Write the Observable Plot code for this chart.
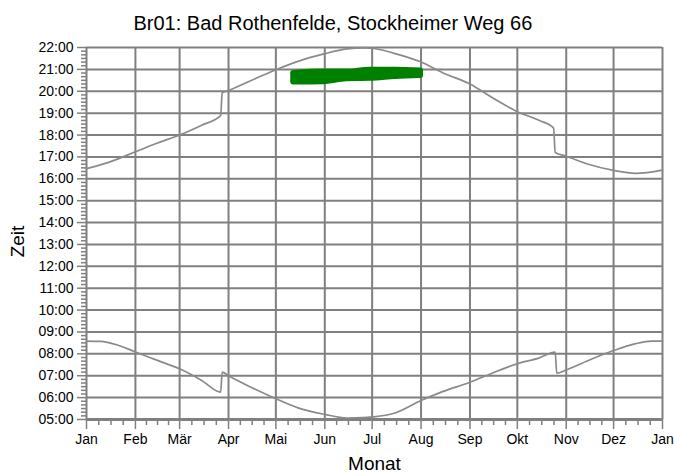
<!DOCTYPE html>
<html><head><meta charset="utf-8">
<script src="https://cdn.jsdelivr.net/npm/d3@7"></script>
<script src="https://cdn.jsdelivr.net/npm/@observablehq/plot@0.6"></script>
<style>body{margin:0;background:#fff} svg{display:block}</style>
</head><body><div id="chart"></div>
<script>
const title = "Br01: Bad Rothenfelde, Stockheimer Weg 66";
const xLabel = "Monat";
const yLabel = "Zeit";
const monthLabels = ["Jan","Feb","Mär","Apr","Mai","Jun","Jul","Aug","Sep","Okt","Nov","Dez","Jan"];
const hourTicks = [5,6,7,8,9,10,11,12,13,14,15,16,17,18,19,20,21,22];

const sunsetDays  = ["2023-01-01","2023-01-15","2023-02-01","2023-02-15","2023-03-01","2023-03-15","2023-03-27","2023-03-28","2023-04-01","2023-04-15","2023-05-01","2023-05-15","2023-06-01","2023-06-15","2023-06-25","2023-07-01","2023-07-15","2023-08-01","2023-08-15","2023-09-01","2023-09-15","2023-10-01","2023-10-15","2023-10-24","2023-10-25","2023-11-01","2023-11-15","2023-12-01","2023-12-15","2024-01-01"];
const sunsetTimes = ["16:28","16:45","17:14","17:38","18:00","18:27","18:53","19:56","20:02","20:29","20:59","21:22","21:43","21:56","21:59","21:58","21:44","21:20","20:50","20:20","19:43","19:04","18:40","18:19","17:12","17:02","16:40","16:23","16:15","16:24"];

const sunriseDays  = ["2023-01-01","2023-01-10","2023-01-20","2023-02-01","2023-02-15","2023-03-01","2023-03-15","2023-03-27","2023-03-28","2023-04-01","2023-04-15","2023-05-01","2023-05-15","2023-06-01","2023-06-15","2023-06-25","2023-07-01","2023-07-15","2023-08-01","2023-08-15","2023-09-01","2023-09-15","2023-10-01","2023-10-15","2023-10-25","2023-10-26","2023-11-01","2023-11-15","2023-12-01","2023-12-15","2023-12-25","2024-01-01"];
const sunriseTimes = ["08:35","08:34","08:25","08:05","07:42","07:19","06:47","06:15","07:10","07:00","06:29","05:57","05:32","05:14","05:04","05:05","05:07","05:17","05:52","06:17","06:42","07:07","07:33","07:49","08:05","07:07","07:16","07:42","08:09","08:28","08:35","08:35"];

const shadowDays  = ["2023-05-12","2023-05-31","2023-06-15","2023-06-30","2023-07-16","2023-08-01"];
const shadowStart = ["20:24","20:25","20:33","20:34","20:39","20:42"];
const shadowEnd   = ["20:50","20:54","20:54","20:59","20:59","20:57"];

const toDate = s => new Date(s + "T00:00:00Z");
const toHours = s => { const [h, m] = s.split(":").map(Number); return h + m / 60; };

const sunset = sunsetDays.map((d, i) => ({date: toDate(d), h: toHours(sunsetTimes[i])}));
const sunrise = sunriseDays.map((d, i) => ({date: toDate(d), h: toHours(sunriseTimes[i])}));
const shadow = shadowDays.map((d, i) => ({date: toDate(d), start: toHours(shadowStart[i]), end: toHours(shadowEnd[i])}));

const x0 = new Date(Date.UTC(2023, 0, 1)), x1 = new Date(Date.UTC(2024, 0, 1));
const monthTicks = d3.utcMonth.range(x0, new Date(Date.UTC(2024, 0, 2)));
const minorX = [];
for (let i = 0; i < monthTicks.length - 1; i++) {
  const a = +monthTicks[i], b = +monthTicks[i + 1];
  for (let k = 1; k < 4; k++) minorX.push(new Date(a + (b - a) * k / 4));
}
const minorY = [];
for (let i = 0; i <= 17 * 6; i++) if (i % 6) minorY.push(5 + i / 6);

const gray = "#808080";
const chart = Plot.plot({
  width: 674, height: 473,
  marginLeft: 86, marginRight: 12, marginTop: 47, marginBottom: 54,
  style: {fontFamily: "'Liberation Sans', Arial, sans-serif", fontSize: "14px", color: "black", background: "white"},
  x: {type: "utc", domain: [x0, x1], label: null},
  y: {domain: [5, 22], label: null},
  marks: [
    Plot.gridX(monthTicks, {stroke: gray, strokeOpacity: 1, strokeWidth: 2}),
    Plot.gridY(hourTicks, {stroke: gray, strokeOpacity: 1, strokeWidth: 2}),
    Plot.ruleY([5], {stroke: gray, strokeWidth: 3}),
    Plot.axisX(monthTicks, {tickSize: 10, tickPadding: 5, stroke: gray, strokeWidth: 1.5, tickFormat: d => monthLabels[d.getUTCMonth()], fontSize: 14, label: null}),
    Plot.axisX(minorX, {tickSize: 6, stroke: gray, strokeWidth: 1.5, tickFormat: () => "", label: null}),
    Plot.axisY(hourTicks, {tickSize: 9, tickPadding: 4, stroke: gray, strokeWidth: 1.5, tickFormat: h => String(h).padStart(2, "0") + ":00", fontSize: 14, label: null}),
    Plot.axisY(minorY, {tickSize: 5, stroke: gray, strokeWidth: 1.5, tickFormat: () => "", label: null}),
    Plot.areaY(shadow, {x: "date", y1: "start", y2: "end", fill: "#008000", stroke: "#008000", strokeWidth: 5, strokeLinejoin: "round", curve: "monotone-x"}),
    Plot.line(sunset, {x: "date", y: "h", stroke: "#8a8a8a", strokeWidth: 1.7, curve: "monotone-x"}),
    Plot.line(sunrise, {x: "date", y: "h", stroke: "#8a8a8a", strokeWidth: 1.7, curve: "monotone-x"}),
    Plot.text([title], {frameAnchor: "top-left", dx: 47, dy: -18, textAnchor: "start", lineAnchor: "bottom", fontSize: 20}),
    Plot.text([xLabel], {frameAnchor: "bottom", dy: 44, textAnchor: "middle", lineAnchor: "middle", fontSize: 19}),
    Plot.text([yLabel], {frameAnchor: "left", dx: -69, dy: 8, textAnchor: "middle", lineAnchor: "middle", rotate: -90, fontSize: 19})
  ]
});
document.getElementById("chart").appendChild(chart);
</script>
</body></html>
